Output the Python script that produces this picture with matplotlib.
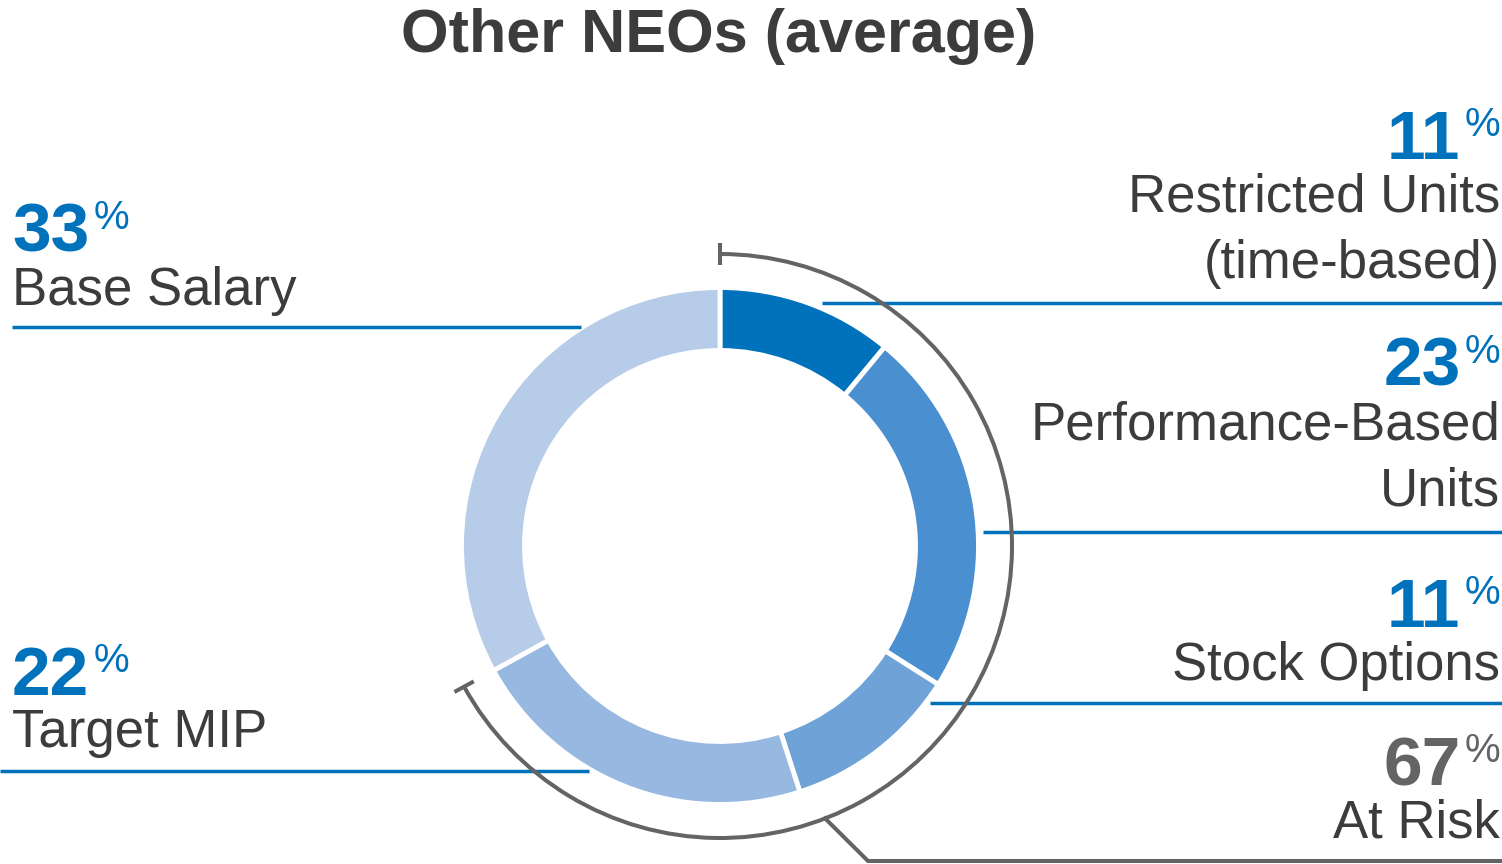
import matplotlib
matplotlib.use("Agg")
import numpy as np
import matplotlib.pyplot as plt
from matplotlib.patches import Arc

# data
labels = ["Restricted Units\n(time-based)", "Performance-Based\nUnits", "Stock Options",
          "Target MIP", "Base Salary"]
values = [11, 23, 11, 22, 33]
colors = ["#0072BC", "#4A8FCF", "#6FA2D7", "#97B8E0", "#B7CCE8"]
at_risk = sum(values[:4])
title = "Other NEOs (average)"

W, H = 1502, 864
BLUE = "#0072BC"
GRAY = "#646464"
TXT = "#3C3C3C"
FONT = "Liberation Sans"

def Y(y):
    return H - y

fig = plt.figure(figsize=(W / 100, H / 100), dpi=100)
ax = fig.add_axes([0, 0, 1, 1])

cx, cy = 720, Y(546)
ax.pie(values, colors=colors, startangle=90, counterclock=False, radius=258.5,
       center=(cx, cy), wedgeprops=dict(width=63, edgecolor="white", linewidth=3.5))
ax.set_xlim(0, W)
ax.set_ylim(0, H)
ax.set_aspect("equal", adjustable="box")
ax.axis("off")

# arc bracket round the at-risk part
r_arc = 292
theta_end = 90 - at_risk / 100 * 360
ax.add_patch(Arc((cx, cy), 2 * r_arc, 2 * r_arc, theta1=theta_end, theta2=90,
                 color=GRAY, lw=2.9, zorder=5))
for th in (90, theta_end):
    t = np.deg2rad(th)
    ax.plot([cx + (r_arc - 11) * np.cos(t), cx + (r_arc + 11) * np.cos(t)],
            [cy + (r_arc - 11) * np.sin(t), cy + (r_arc + 11) * np.sin(t)],
            color=GRAY, lw=2.9, zorder=5, solid_capstyle="butt")
# leader from arc to "At Risk"
t = np.deg2rad(-68.9)
ax.plot([cx + r_arc * np.cos(t), 868, W], [cy + r_arc * np.sin(t), Y(861), Y(861)],
        color=GRAY, lw=2.9, zorder=5, solid_joinstyle="miter")

# blue leader lines
lines = [(822, W, 303), (983, W, 532), (930, W, 703), (12, 581, 327), (0, 589, 771)]
for x0, x1, y in lines:
    ax.plot([x0, x1], [Y(y), Y(y)], color=BLUE, lw=2.5, solid_capstyle="butt", zorder=3)

ax.text(719, Y(52), title, ha="center", va="baseline", fontsize=44, fontweight="bold",
        color=TXT, family=FONT)

renderer = fig.canvas.get_renderer()

def pct_label(x, y_base, value, color, align):
    kw_num = dict(va="baseline", fontsize=50, fontweight="bold", color=color, family=FONT)
    kw_pct = dict(va="baseline", fontsize=29, color=color, family=FONT)
    if align == "right":
        p = ax.text(x, Y(y_base) + 23, "%", ha="right", **kw_pct)
        w = p.get_window_extent(renderer).width
        ax.text(x - w - 4, Y(y_base), str(value), ha="right", **kw_num)
    else:
        n = ax.text(x, Y(y_base), str(value), ha="left", **kw_num)
        w = n.get_window_extent(renderer).width
        ax.text(x + w + 4, Y(y_base) + 23, "%", ha="left", **kw_pct)

def label(x, y_base, s, align):
    ax.text(x, Y(y_base), s, ha=align, va="baseline", fontsize=38, color=TXT, family=FONT)

# right side
pct_label(1500, 159, values[0], BLUE, "right")
for i, s in enumerate(labels[0].split("\n")):
    label(1500, 212 + 66 * i, s, "right")
pct_label(1500, 386, values[1], BLUE, "right")
for i, s in enumerate(labels[1].split("\n")):
    label(1500, 440 + 65 * i, s, "right")
pct_label(1500, 627, values[2], BLUE, "right")
label(1500, 680, labels[2], "right")
pct_label(1500, 785, at_risk, "#636466", "right")
label(1500, 838, "At Risk", "right")

# left side
pct_label(12, 252, values[4], BLUE, "left")
label(12, 305, labels[4], "left")
pct_label(12, 695, values[3], BLUE, "left")
label(12, 747, labels[3], "left")

fig.savefig("out.png", dpi=100, facecolor="white")
